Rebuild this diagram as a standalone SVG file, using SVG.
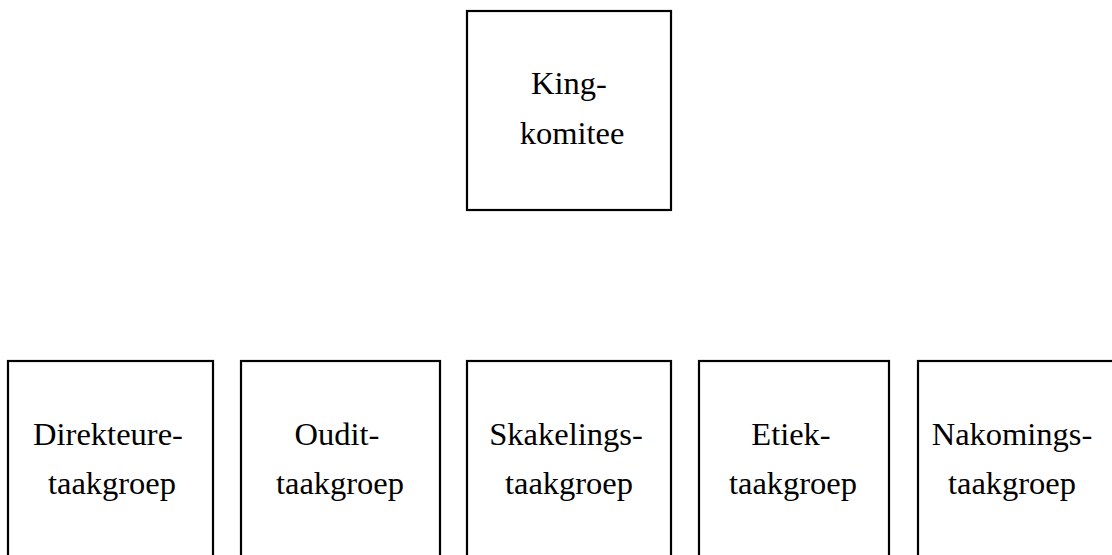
<svg xmlns="http://www.w3.org/2000/svg" width="1112" height="555" viewBox="0 0 1112 555">
<style>
.box{fill:#fff;stroke:#000;stroke-width:2.2}
.t{font-family:"Liberation Serif","Times New Roman",serif;font-size:32.5px;fill:#000;text-anchor:middle}
</style>
<rect width="1112" height="555" fill="#fff"/>
<g id="connectors"></g>
<g id="king">
<rect class="box" x="467" y="11" width="204" height="199"/>
<text class="t" x="569" y="94">King-</text>
<text class="t" x="572" y="144">komitee</text>
</g>
<g id="direkteure">
<rect class="box" x="8" y="361" width="205" height="210"/>
<text class="t" x="108" y="445">Direkteure-</text>
<text class="t" x="112" y="494">taakgroep</text>
</g>
<g id="oudit">
<rect class="box" x="241" y="361" width="199" height="210"/>
<text class="t" x="337" y="445">Oudit-</text>
<text class="t" x="340" y="494">taakgroep</text>
</g>
<g id="skakelings">
<rect class="box" x="467" y="361" width="204" height="210"/>
<text class="t" x="566" y="445">Skakelings-</text>
<text class="t" x="569" y="494">taakgroep</text>
</g>
<g id="etiek">
<rect class="box" x="699" y="361" width="190" height="210"/>
<text class="t" x="791" y="445">Etiek-</text>
<text class="t" x="793" y="494">taakgroep</text>
</g>
<g id="nakomings">
<rect class="box" x="918" y="361" width="210" height="210"/>
<text class="t" x="1012" y="445">Nakomings-</text>
<text class="t" x="1012" y="494">taakgroep</text>
</g>
</svg>
